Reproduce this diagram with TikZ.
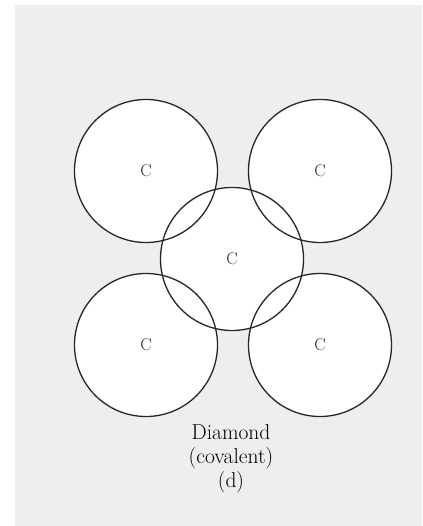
\documentclass[tikz,border=0pt]{standalone}
\begin{document}
\begin{tikzpicture}[x=1pt,y=-1pt,
  atom/.style={circle,minimum size=143pt,inner sep=0pt},
  atomline/.style={draw=black!85,line width=1.3pt},
  atomlabel/.style={font=\fontsize{17}{18}\selectfont,text=black!85},
  captext/.style={font=\fontsize{21.5}{24}\selectfont,align=center,text=black}]
\useasboundingbox (0,0) rectangle (422,526);
\fill[white] (0,0) rectangle (422,526);
\fill[gray!13] (15,5) rectangle (422,526);
% atoms
\node[atom,fill=white] (tl) at (146,171) {};
\node[atom,fill=white] (tr) at (320,171) {};
\node[atom,fill=white] (bl) at (146,345) {};
\node[atom,fill=white] (br) at (320,345) {};
\node[atom,fill=white] (c) at (232,259) {};
\foreach \n in {tl,tr,bl,br,c}{
  \draw[atomline] (\n) circle (71.5);
}
\node[atomlabel] (ltl) at (tl) {C};
\node[atomlabel] (ltr) at (tr) {C};
\node[atomlabel] (lbl) at (bl) {C};
\node[atomlabel] (lbr) at (br) {C};
\node[atomlabel] (lc) at (c) {C};
\node[captext] (caption) at (231,459) {Diamond\\(covalent)\\(d)};
\end{tikzpicture}
\end{document}
